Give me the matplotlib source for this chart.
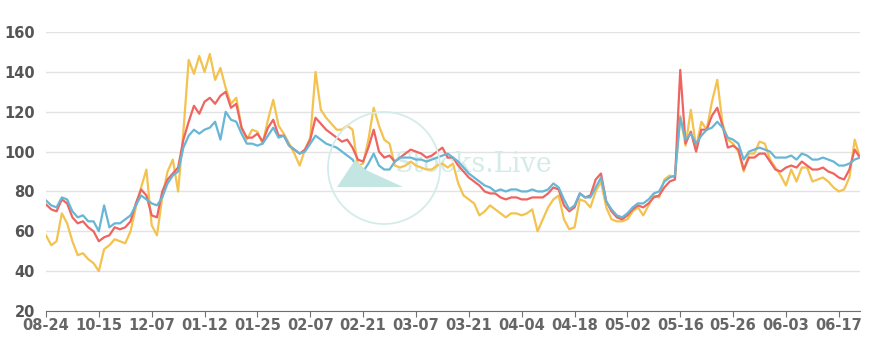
import numpy as np
import matplotlib
matplotlib.use("Agg")
import matplotlib.pyplot as plt
from matplotlib.patches import Circle, Polygon

# date labels shown every 10 points
tick_labels = ['08-24', '10-15', '12-07', '01-12', '01-25', '02-07', '02-21', '03-07',
               '03-21', '04-04', '04-18', '05-02', '05-16', '05-26', '06-03', '06-17']

blue = [75.5, 73, 72, 77, 76, 70, 67, 68, 65, 65,
        60, 73, 62, 64, 64, 66, 68, 73, 78, 76,
        74, 73, 77, 84, 88, 90, 102, 108, 111, 109,
        111, 112, 115, 106, 120, 116, 115, 109, 104, 104,
        103, 104, 108, 112, 107, 108, 103, 101, 99, 100,
        104, 108, 106, 104, 103, 102, 100, 98, 96, 92,
        90, 94, 99, 93, 91, 91, 95, 97, 97, 97,
        96, 96, 95, 96, 97, 98, 99, 97, 95, 92,
        89, 87, 85, 83, 82, 80, 81, 80, 81, 81,
        80, 80, 81, 80, 80, 81, 84, 82, 76, 71,
        73, 79, 77, 77, 82, 87, 75, 71, 68, 67,
        69, 72, 74, 74, 76, 79, 80, 85, 87, 88,
        117, 106, 109, 104, 108, 111, 112, 115, 112, 107,
        106, 104, 96, 100, 101, 102, 101, 100, 97, 97,
        97, 98, 96, 99, 98, 96, 96, 97, 96, 95,
        93, 93, 94, 96, 97]

red = [73.5, 71, 70, 76, 74, 67, 64, 65, 62, 60,
       55, 57, 58, 62, 61, 62, 65, 74, 81, 78,
       68, 67, 80, 86, 89, 92, 106, 115, 123, 119,
       125, 127, 124, 128, 130, 122, 124, 112, 107, 107,
       109, 105, 112, 116, 108, 108, 103, 101, 99, 101,
       106, 117, 114, 111, 109, 107, 105, 106, 102, 96,
       95, 102, 111, 100, 97, 98, 95, 97, 99, 101,
       100, 99, 97, 98, 100, 102, 97, 97, 93, 90,
       87, 85, 83, 80, 79, 79, 77, 76, 77, 77,
       76, 76, 77, 77, 77, 79, 82, 81, 73, 70,
       72, 79, 77, 78, 86, 89, 75, 70, 67, 66,
       68, 71, 73, 72, 74, 77, 78, 82, 85, 86,
       141, 104, 110, 100, 111, 111, 118, 122, 113, 102,
       103, 101, 91, 97, 97, 99, 99, 95, 91, 90,
       92, 93, 92, 95, 93, 91, 91, 92, 90, 89,
       87, 86, 91, 101, 97]

yellow = [58, 53, 55, 69, 64, 55, 48, 49, 46, 44,
          40, 51, 53, 56, 55, 54, 60, 72, 82, 91,
          63, 58, 77, 90, 96, 80, 110, 146, 139, 148,
          140, 149, 136, 142, 132, 124, 127, 112, 106, 111,
          110, 104, 116, 126, 113, 109, 104, 99, 93, 101,
          107, 140, 121, 117, 114, 111, 111, 113, 111, 93,
          94, 106, 122, 113, 106, 104, 93, 92, 93, 95,
          93, 92, 91, 91, 93, 94, 92, 94, 84, 78,
          76, 74, 68, 70, 73, 71, 69, 67, 69, 69,
          68, 69, 71, 60, 66, 72, 76, 78, 66, 61,
          62, 76, 75, 72, 80, 85, 72, 66, 65, 65,
          66, 70, 72, 68, 73, 78, 77, 86, 88, 87,
          118, 103, 121, 102, 115, 111, 125, 136, 114, 106,
          104, 100, 90, 99, 99, 105, 104, 96, 92, 88,
          83, 91, 85, 92, 92, 85, 86, 87, 85, 82,
          80, 81, 87, 106, 97]

x = np.arange(len(blue))

fig = plt.figure(figsize=(8.69, 3.41), dpi=100)
ax = fig.add_axes([0.0529, 0.088, 0.9367, 0.818])

# watermark, placed in figure inches
wm = '#d3ecea'
inch = fig.dpi_scale_trans
fig.patches.append(Circle((3.84, 1.73), 0.56, transform=inch, fill=False,
                          edgecolor=wm, lw=1.3, zorder=0))
fig.patches.append(Polygon([[3.55, 1.81], [3.37, 1.54], [4.03, 1.54], [3.66, 1.71]],
                           closed=True, transform=inch, facecolor='#c4e6e3',
                           edgecolor='none', zorder=0))
ax.text(66, 93.5, 'Stocks.Live', fontsize=19.5, family='DejaVu Serif',
        color=wm, va='center', ha='left', zorder=1)
ax.patch.set_alpha(0)

ax.plot(x, yellow, color='#f3c24f', lw=1.6, zorder=3)
ax.plot(x, red, color='#ee6460', lw=1.6, zorder=4)
ax.plot(x, blue, color='#68b6d6', lw=1.6, zorder=5)

ax.set_xlim(0, len(blue) - 1)
ax.set_ylim(20, 160)
ax.set_yticks(range(20, 161, 20))
ax.set_xticks(range(0, 160, 10))
ax.set_xticklabels(tick_labels)
ax.grid(axis='y', color='#e3e3e3', lw=1)
ax.set_axisbelow(True)

for s in ['top', 'right', 'left']:
    ax.spines[s].set_visible(False)
ax.spines['bottom'].set_color('#6e7079')
ax.tick_params(axis='y', length=0, labelsize=10.5, labelcolor='#555555', pad=8)
ax.tick_params(axis='x', length=4, color='#6e7079', labelsize=10.5,
               labelcolor='#666666', pad=1)
for lab in ax.get_xticklabels() + ax.get_yticklabels():
    lab.set_fontweight('bold')

fig.savefig('out.png', dpi=100)
